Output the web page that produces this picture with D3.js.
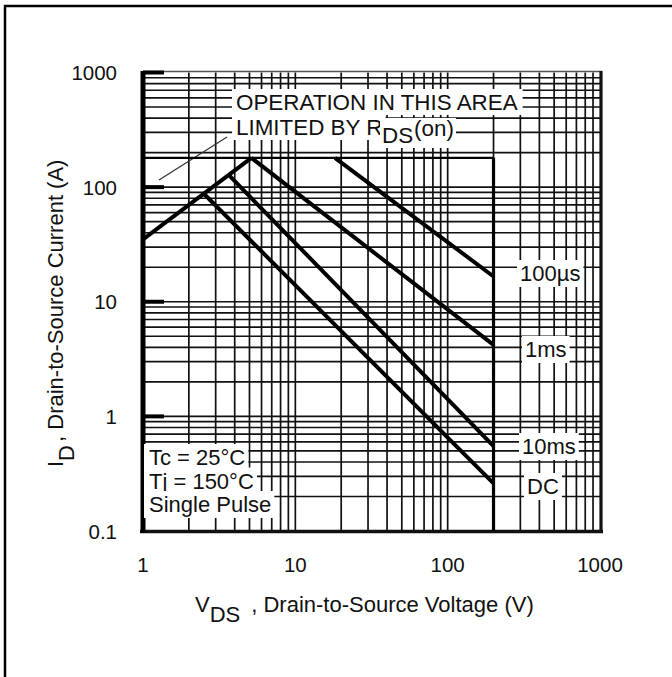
<!DOCTYPE html>
<html>
<head>
<meta charset="utf-8">
<script src="https://cdn.jsdelivr.net/npm/d3@7"></script>
<style>
  html, body { margin: 0; padding: 0; background: #fff; }
  svg { display: block; }
  text { font-family: "Liberation Sans", Arial, Helvetica, sans-serif; fill: #111; }
</style>
</head>
<body>
<svg id="chart" width="672" height="677"></svg>
<script>
// ---------- data ----------
const xTickValues = [1, 10, 100, 1000];
const xTickLabels = ["1", "10", "100", "1000"];
const yTickValues = [0.1, 1, 10, 100, 1000];
const yTickLabels = ["0.1", "1", "10", "100", "1000"];

// boundary lines (V, A)
const rdsLimit     = [[1, 35], [5.15, 180]];
const currentLimit = [[1, 180], [200, 180]];
const voltageLimit = [[200, 180], [200, 0.1]];
// pulse curves (V, A)
const curve100us = [[18.2, 180], [200, 16.6]];
const curve1ms   = [[5.15, 180], [200, 4.2]];
const curve10ms  = [[3.65, 128], [200, 0.55]];
const curveDC    = [[2.5, 88], [200, 0.26]];

const curveLabels = ["100µs", "1ms", "10ms", "DC"];
const conditionLines = ["Tc = 25°C", "Tj = 150°C", "Single Pulse"];

// ---------- scales ----------
const svg = d3.select("#chart");
const x = d3.scaleLog().domain([1, 1000]).range([143, 600]);
const y = d3.scaleLog().domain([0.1, 1000]).range([531, 72.5]);

// outer frame
svg.append("path")
  .attr("d", "M5,677 V6 H672")
  .attr("fill", "none").attr("stroke", "#000").attr("stroke-width", 2.5);

// ---------- grid ----------
const gridX = [], gridY = [];
for (let d = 0; d < 3; d++) for (let k = 2; k <= 10; k++) { const v = k * Math.pow(10, d); if (v < 1000) gridX.push(v); }
for (let d = -1; d < 3; d++) for (let k = 2; k <= 10; k++) { const v = k * Math.pow(10, d); if (v < 1000) gridY.push(v); }

const grid = svg.append("g");
grid.selectAll("line.gx").data(gridX).join("line")
  .attr("x1", d => x(d)).attr("x2", d => x(d))
  .attr("y1", y(1000)).attr("y2", y(0.1))
  .attr("stroke", "#111").attr("stroke-width", 1.7);
grid.selectAll("line.gy").data(gridY).join("line")
  .attr("y1", d => y(d)).attr("y2", d => y(d))
  .attr("x1", x(1)).attr("x2", x(1000))
  .attr("stroke", "#111").attr("stroke-width", 1.7);

// ---------- plot frame ----------
svg.append("line").attr("x1", x(1)).attr("x2", x(1000) + 2).attr("y1", 71.5).attr("y2", 71.5)
  .attr("stroke", "#555").attr("stroke-width", 1.3);
svg.append("line").attr("x1", x(1000) + 1).attr("x2", x(1000) + 1).attr("y1", 71).attr("y2", y(0.1) + 2)
  .attr("stroke", "#111").attr("stroke-width", 3.2);
svg.append("line").attr("x1", x(1) - 3).attr("x2", x(1000) + 3).attr("y1", y(0.1) + 0.5).attr("y2", y(0.1) + 0.5)
  .attr("stroke", "#111").attr("stroke-width", 3.6);
svg.append("line").attr("x1", x(1)).attr("x2", x(1)).attr("y1", 71).attr("y2", y(0.1) + 2)
  .attr("stroke", "#000").attr("stroke-width", 5);
// decade ticks on left axis
svg.selectAll("line.dt").data(yTickValues.filter(v => v > 0.1)).join("line")
  .attr("x1", x(1)).attr("x2", x(1) + 21)
  .attr("y1", d => y(d)).attr("y2", d => y(d))
  .attr("stroke", "#000").attr("stroke-width", 4);

// ---------- annotations with white backgrounds ----------
const ann = svg.append("g");
function label(g, px, py, parts, size, pad) {
  const gg = g.append("g");
  const t = gg.append("text").attr("x", px).attr("y", py).style("font-size", size + "px");
  parts.forEach(p => {
    const ts = t.append("tspan").text(p.t);
    if (p.dy) ts.attr("dy", p.dy);
    if (p.dx) ts.attr("dx", p.dx);
  });
  const b = t.node().getBBox();
  const p = pad || [3, 1, 3, 1];
  gg.insert("rect", "text")
    .attr("x", b.x - p[0]).attr("y", b.y - p[1])
    .attr("width", b.width + p[0] + p[2]).attr("height", b.height + p[1] + p[3])
    .attr("fill", "#fff");
  return gg;
}

label(ann, 236, 110, [{t: "OPERATION IN THIS AREA"}], 22.4, [4, 1, 5, 0]);
label(ann, 236, 135, [{t: "LIMITED BY R"}], 22.4, [4, 0, 3, 0]);
label(ann, 382, 143, [{t: "DS"}, {t: "(on)", dy: -7, dx: 1}], 22.4, [2, -2, 2, 0]);

conditionLines.forEach((s, i) => label(ann, 149, 465 + i * 23.5, [{t: s}], 22, [5, 1, 3, 1]));

const curveLabelY = [281, 357, 454, 494];
const curveLabelX = [520, 525, 522, 527];
curveLabels.forEach((s, i) => label(ann, curveLabelX[i], curveLabelY[i], [{t: s}], 22, [3, 1, 3, 1]));

// pointer line
svg.append("line").attr("x1", 159).attr("y1", 180).attr("x2", 227).attr("y2", 137)
  .attr("stroke", "#333").attr("stroke-width", 1.2);

// ---------- curves ----------
const line = d3.line().x(d => x(d[0])).y(d => y(d[1]));
const curves = svg.append("g").attr("fill", "none").attr("stroke", "#000").attr("stroke-linecap", "butt");
curves.append("path").datum(currentLimit).attr("d", line).attr("stroke-width", 2.4);
curves.append("path").datum(voltageLimit).attr("d", line).attr("stroke-width", 3.2);
[rdsLimit, curve100us, curve1ms, curve10ms, curveDC].forEach(c =>
  curves.append("path").datum(c).attr("d", line).attr("stroke-width", 4).attr("stroke-linejoin", "miter"));

// ---------- tick labels ----------
svg.selectAll("text.xt").data(xTickValues).join("text")
  .attr("x", d => x(d)).attr("y", 572).attr("text-anchor", "middle")
  .style("font-size", "20.5px").text((d, i) => xTickLabels[i]);
svg.selectAll("text.yt").data(yTickValues).join("text")
  .attr("x", 117).attr("y", d => y(d) + 7.5).attr("text-anchor", "end")
  .style("font-size", "20.5px").text((d, i) => yTickLabels[i]);

// ---------- axis titles ----------
const xt = svg.append("text").attr("x", 195).attr("y", 612).style("font-size", "22px");
xt.append("tspan").text("V");
xt.append("tspan").attr("dy", 10).text("DS");
xt.append("tspan").attr("dy", -10).attr("dx", 11).text(", Drain-to-Source Voltage (V)");

const yt = svg.append("text").attr("transform", "translate(63,467) rotate(-90)").style("font-size", "22px");
yt.append("tspan").text("I");
yt.append("tspan").attr("dy", 11).text("D");
yt.append("tspan").attr("dy", -11).attr("dx", 3).text(", Drain-to-Source Current (A)");
</script>
</body>
</html>
